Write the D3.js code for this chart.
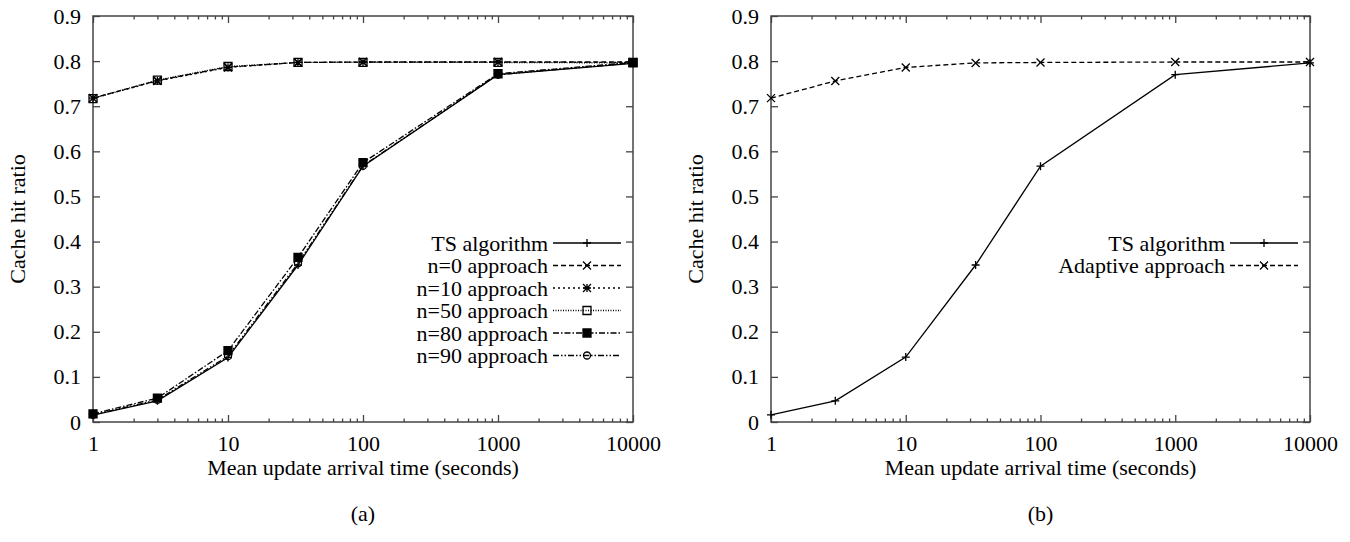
<!DOCTYPE html>
<html>
<head>
<meta charset="utf-8">
<script src="https://cdn.jsdelivr.net/npm/d3@7"></script>
<style>
  body { margin: 0; background: #fff; }
</style>
</head>
<body>
<svg id="chart" width="1350" height="542"></svg>
<script>
// values
const arrivalTimes = [1, 3, 10, 33, 100, 1000, 10000];
const tsAlgorithmA = [0.015, 0.047, 0.143, 0.348, 0.567, 0.770, 0.795];
const n0Approach = [0.718, 0.757, 0.787, 0.797, 0.798, 0.798, 0.798];
const n10Approach = [0.718, 0.756, 0.786, 0.797, 0.798, 0.798, 0.797];
const n50Approach = [0.717, 0.758, 0.788, 0.797, 0.797, 0.797, 0.796];
const n80Approach = [0.018, 0.053, 0.158, 0.365, 0.575, 0.772, 0.797];
const n90Approach = [0.016, 0.049, 0.146, 0.352, 0.568, 0.770, 0.796];
const tsAlgorithmB = [0.016, 0.047, 0.144, 0.348, 0.567, 0.770, 0.796];
const adaptiveApproach = [0.718, 0.756, 0.786, 0.796, 0.797, 0.798, 0.798];

const xTicks = [1, 10, 100, 1000, 10000];
const yTicks = [0, 0.1, 0.2, 0.3, 0.4, 0.5, 0.6, 0.7, 0.8, 0.9];
const xTitle = "Mean update arrival time (seconds)";
const yTitle = "Cache hit ratio";
const captions = ["(a)", "(b)"];

// gnuplot-like point shapes
const marks = {
  plus: s => `M${-s},0H${s}M0,${-s}V${s}`,
  cross: s => `M${-s},${-s}L${s},${s}M${-s},${s}L${s},${-s}`,
  star: s => `M${-s},0H${s}M0,${-s}V${s}M${-s},${-s}L${s},${s}M${-s},${s}L${s},${-s}`,
  box: s => `M${-s},${-s}H${s}V${s}H${-s}Z`,
  fbox: s => `M${-s},${-s}H${s}V${s}H${-s}Z`,
  circle: s => `M${s},0A${s},${s} 0 1,1 ${-s},0A${s},${s} 0 1,1 ${s},0Z`
};

const panels = [
  {
    left: 93, right: 633, caption: captions[0],
    series: [
      { name: "TS algorithm", values: tsAlgorithmA, dash: null, mark: "plus" },
      { name: "n=0 approach", values: n0Approach, dash: "5,3", mark: "cross" },
      { name: "n=10 approach", values: n10Approach, dash: "2,3", mark: "star" },
      { name: "n=50 approach", values: n50Approach, dash: "1,1.5", mark: "box" },
      { name: "n=80 approach", values: n80Approach, dash: "6,2,1.5,2", mark: "fbox" },
      { name: "n=90 approach", values: n90Approach, dash: "6,2,1.5,2,1.5,2", mark: "circle" }
    ]
  },
  {
    left: 771, right: 1310, caption: captions[1],
    series: [
      { name: "TS algorithm", values: tsAlgorithmB, dash: null, mark: "plus" },
      { name: "Adaptive approach", values: adaptiveApproach, dash: "5,3", mark: "cross" }
    ]
  }
];

const plotTop = 16, plotBottom = 422;
const fontFamily = "'Liberation Serif', 'Times New Roman', Times, serif";
const fontSize = 22;
const svg = d3.select("#chart")
  .attr("font-family", fontFamily).attr("font-size", fontSize);
const axisColor = "#444";

function minorTicks() {
  const out = [];
  for (let d = 1; d < 10000; d *= 10)
    for (let k = 2; k <= 9; k++) out.push(d * k);
  return out;
}

function addText(parent) {
  return parent.append("text")
    .attr("font-family", fontFamily).attr("font-size", fontSize).attr("fill", "#000");
}

function drawPanel(p) {
  const x = d3.scaleLog().domain([1, 10000]).range([p.left, p.right]);
  const y = d3.scaleLinear().domain([0, 0.9]).range([plotBottom, plotTop]);
  const g = svg.append("g");

  // ticks, all pointing inward
  const styleAxis = sel => {
    sel.select(".domain").remove();
    sel.attr("font-family", fontFamily).attr("font-size", fontSize);
    sel.selectAll("line").attr("stroke", axisColor).attr("stroke-width", 1.3);
    sel.selectAll("text").attr("fill", "#000")
      .attr("font-family", fontFamily).attr("font-size", fontSize);
  };
  g.append("g").attr("transform", `translate(0,${plotBottom})`)
    .call(d3.axisBottom(x).tickValues(xTicks).tickFormat(d3.format("d")).tickSize(-7).tickPadding(13))
    .call(styleAxis);
  g.append("g").attr("transform", `translate(0,${plotBottom})`)
    .call(d3.axisBottom(x).tickValues(minorTicks()).tickFormat("").tickSize(-3.5))
    .call(styleAxis);
  g.append("g").attr("transform", `translate(0,${plotTop})`)
    .call(d3.axisTop(x).tickValues(xTicks).tickFormat("").tickSize(-7))
    .call(styleAxis);
  g.append("g").attr("transform", `translate(0,${plotTop})`)
    .call(d3.axisTop(x).tickValues(minorTicks()).tickFormat("").tickSize(-3.5))
    .call(styleAxis);
  g.append("g").attr("transform", `translate(${p.left},0)`)
    .call(d3.axisLeft(y).tickValues(yTicks).tickFormat(d => d === 0 ? "0" : d3.format(".1f")(d)).tickSize(-7).tickPadding(12))
    .call(styleAxis);
  g.append("g").attr("transform", `translate(${p.right},0)`)
    .call(d3.axisRight(y).tickValues(yTicks).tickFormat("").tickSize(-7))
    .call(styleAxis);

  g.append("rect")
    .attr("x", p.left).attr("y", plotTop)
    .attr("width", p.right - p.left).attr("height", plotBottom - plotTop)
    .attr("fill", "none").attr("stroke", axisColor).attr("stroke-width", 1.5);

  // lines and points
  const line = d3.line().x((d, i) => x(arrivalTimes[i])).y(d => y(d));
  p.series.forEach(s => {
    g.append("path").datum(s.values)
      .attr("d", line).attr("fill", "none").attr("stroke", "#000")
      .attr("stroke-width", 1.3).attr("stroke-dasharray", s.dash);
    g.selectAll(null).data(s.values).join("path")
      .attr("transform", (d, i) => `translate(${x(arrivalTimes[i])},${y(d)})`)
      .attr("d", marks[s.mark](s.mark === "circle" ? 3.5 : 4))
      .attr("fill", s.mark === "fbox" ? "#000" : "none")
      .attr("stroke", "#000").attr("stroke-width", 1.3);
  });

  // legend
  const legend = g.append("g");
  const textRight = p.right - 85, sx0 = p.right - 80, sx1 = p.right - 12;
  p.series.forEach((s, i) => {
    const ly = 243 + i * 22.5;
    addText(legend).attr("x", textRight).attr("y", ly)
      .attr("text-anchor", "end").attr("dominant-baseline", "central").text(s.name);
    legend.append("line").attr("x1", sx0).attr("x2", sx1).attr("y1", ly).attr("y2", ly)
      .attr("stroke", "#000").attr("stroke-width", 1.3).attr("stroke-dasharray", s.dash);
    legend.append("path").attr("transform", `translate(${(sx0 + sx1) / 2},${ly})`)
      .attr("d", marks[s.mark](s.mark === "circle" ? 3.5 : 4))
      .attr("fill", s.mark === "fbox" ? "#000" : "none")
      .attr("stroke", "#000").attr("stroke-width", 1.3);
  });

  // titles
  const cx = (p.left + p.right) / 2;
  addText(g).attr("x", cx).attr("y", 467).attr("text-anchor", "middle")
    .attr("dominant-baseline", "central").text(xTitle);
  addText(g).attr("transform", `translate(${p.left - 76},${(plotTop + plotBottom) / 2}) rotate(-90)`)
    .attr("text-anchor", "middle").attr("dominant-baseline", "central").text(yTitle);
  addText(g).attr("x", cx).attr("y", 513).attr("text-anchor", "middle")
    .attr("dominant-baseline", "central").text(p.caption);
}

panels.forEach(drawPanel);
</script>
</body>
</html>
